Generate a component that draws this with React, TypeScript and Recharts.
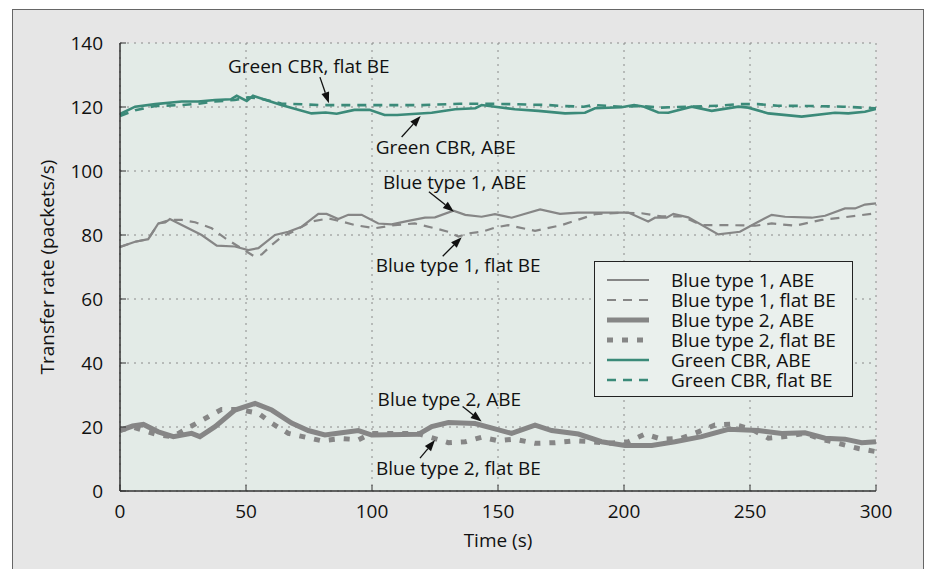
import React from "react"
import { LineChart, Line, XAxis, YAxis, CartesianGrid, Legend, ReferenceDot } from "recharts"

// time (s) and transfer rate (packets/s)
const greenAbeT = [0, 6, 14, 24.5, 31, 37.7, 44, 46.3, 50.3, 52.8, 64, 76, 81.6, 86, 93, 99, 105, 110, 123.7, 133, 141, 143.5, 148.8, 156.7, 166, 176.6, 184.5, 188.5, 199, 204, 208, 213.6, 217.6, 226.9, 234.8, 245.4, 249.3, 257.3, 270.5, 283.7, 289, 295.6, 300]
const greenAbeV = [117.8, 120.1, 120.9, 121.7, 121.7, 122.2, 122.4, 123.5, 121.9, 123.5, 120.6, 118.0, 118.3, 117.9, 119.1, 119.1, 117.5, 117.5, 118.2, 119.3, 119.6, 120.6, 120.1, 119.3, 118.8, 118.0, 118.2, 119.6, 119.9, 120.6, 120.1, 118.3, 118.2, 120.1, 118.8, 120.1, 119.8, 118.0, 117.0, 118.2, 118.0, 118.5, 119.4]

const greenFlatT = [0, 6, 14, 24.5, 31, 37.7, 45.5, 50.8, 54.8, 64, 80, 100, 120, 135, 145, 155, 170, 176, 184, 188, 199, 207, 214, 225, 238, 245, 253, 261, 274, 287, 300]
const greenFlatV = [117.2, 119.0, 120.3, 120.6, 121.0, 121.7, 122.2, 123.0, 122.8, 121.1, 120.6, 120.6, 120.6, 121.0, 121.0, 120.9, 120.6, 120.3, 120.1, 120.6, 120.1, 120.3, 119.8, 120.1, 120.4, 120.9, 120.9, 120.4, 120.3, 120.1, 119.6]

const blue1AbeT = [0, 6, 11.2, 15.2, 17.9, 19.8, 24.5, 32.4, 38.4, 45.6, 50.9, 54.9, 61.5, 66.8, 72.1, 78.7, 82, 86.6, 90.6, 95.9, 102.5, 107.8, 114.4, 121, 125, 132.3, 137, 143.5, 148.8, 155.4, 166.7, 174.6, 181.6, 201.7, 209.6, 212.3, 216.9, 219.6, 225.5, 237.4, 246, 252, 258.6, 263.9, 274.5, 279.8, 287.7, 291.7, 295.6, 300]
const blue1AbeV = [76.3, 77.9, 78.7, 83.6, 83.9, 85.0, 83.1, 80.0, 76.7, 76.4, 75.3, 75.9, 80.0, 81.0, 82.6, 86.6, 86.6, 85.0, 86.3, 86.3, 83.6, 83.3, 84.4, 85.4, 85.5, 87.6, 86.3, 85.7, 86.5, 85.4, 88.0, 86.6, 87.0, 87.0, 84.2, 85.4, 85.4, 86.6, 85.5, 80.2, 81.0, 83.6, 86.3, 85.7, 85.4, 86.0, 88.3, 88.3, 89.5, 89.9]

const blue1FlatT = [0, 6, 11.2, 15.2, 19.8, 24.5, 29.8, 36.4, 41.7, 47, 52.9, 56.2, 60.2, 64.2, 69.5, 76, 82.7, 88, 93.3, 101, 109, 117, 125, 130.3, 134.3, 138.2, 143.5, 148.8, 154, 164.7, 175.3, 188.5, 199, 207, 215, 223, 230.8, 241.4, 252, 258.6, 267.8, 278.4, 289, 300]
const blue1FlatV = [76.3, 77.9, 78.7, 83.6, 84.7, 84.7, 84.0, 82.1, 79.0, 76.4, 73.5, 73.9, 76.9, 79.4, 81.4, 84.2, 85.2, 84.2, 83.1, 82.1, 83.1, 83.6, 82.1, 81.0, 79.5, 80.5, 81.0, 82.3, 83.1, 81.3, 83.1, 86.5, 87.0, 86.8, 85.8, 85.8, 83.1, 83.1, 82.9, 83.6, 82.9, 84.7, 85.7, 86.8]

const blue2AbeT = [0, 5, 9.3, 15.2, 21.2, 28.4, 31.7, 37.7, 45.6, 53.6, 60.2, 68.1, 74.7, 81.3, 87.9, 94.6, 99.9, 118.4, 123.7, 130.3, 140.9, 148.8, 155.4, 164.7, 171.3, 181.9, 191.1, 200.4, 211, 220.2, 230.8, 241.4, 253.3, 262.6, 271.8, 279.8, 287.7, 294.3, 300]
const blue2AbeV = [18.9, 20.3, 20.8, 18.5, 17.0, 18.0, 17.0, 20.1, 25.3, 27.4, 25.3, 21.2, 18.9, 17.5, 18.2, 18.9, 17.5, 17.7, 20.1, 21.4, 21.1, 19.4, 18.0, 20.6, 18.9, 17.8, 15.4, 14.2, 14.2, 15.4, 17.0, 19.3, 18.9, 18.0, 18.2, 16.5, 16.2, 15.1, 15.4]

const blue2FlatT = [0, 5, 15.2, 21, 28.4, 35, 40.3, 46.9, 54.9, 60.2, 66.8, 80, 88, 94.6, 99.9, 106.5, 118, 122.3, 130.3, 137, 143.5, 150.1, 156.5, 164.7, 172.6, 180.5, 187.1, 193.7, 201.7, 208.3, 214.9, 222.8, 229.5, 236.1, 243.4, 250.6, 257.3, 263.9, 271.8, 278.4, 285, 293, 300]
const blue2FlatV = [19.0, 20.0, 17.5, 17.0, 20.3, 23.2, 25.5, 25.5, 24.3, 21.2, 18.0, 15.7, 16.4, 16.0, 18.0, 18.0, 18.0, 17.0, 15.1, 15.4, 16.8, 15.7, 16.2, 14.9, 15.1, 15.7, 15.4, 14.9, 15.4, 17.8, 16.2, 16.5, 18.5, 20.6, 20.9, 19.3, 16.5, 17.0, 18.0, 16.2, 14.9, 13.3, 12.3]

const xTicks = [0, 50, 100, 150, 200, 250, 300]
const yTicks = [0, 20, 40, 60, 80, 100, 120, 140]

// annotation text and the point (t, rate) its arrow points to
const noteLabels = ["Green CBR, flat BE", "Green CBR, ABE", "Blue type 1, ABE", "Blue type 1, flat BE", "Blue type 2, ABE", "Blue type 2, flat BE"]
const noteT = [82.9, 119.3, 132.5, 135.6, 143.5, 125]
const noteV = [121.2, 117.2, 87.3, 79.3, 21.7, 15.9]

// pixel offsets from arrow tip: tail dx,dy and text dx,dy
const noteLayout = [
  { tx: -9, ty: -26, lx: -101, ly: -37 },
  { tx: -19, ty: 21, lx: -45, ly: 31 },
  { tx: -25, ty: -20, lx: -71, ly: -30 },
  { tx: -19, ty: 19, lx: -86, ly: 28 },
  { tx: -19, ty: -15, lx: -104, ly: -23 },
  { tx: -15, ty: 18, lx: -59, ly: 28 },
]

const GRAY = "#868686"
const GREEN = "#3b8a79"
const FONT = "'Open Sans', sans-serif"
const FS = 19

const zip = (t: number[], v: number[]) => t.map((x, i) => ({ t: x, v: v[i] }))

const series = [
  { name: "Blue type 1, ABE", data: zip(blue1AbeT, blue1AbeV), color: GRAY, width: 2.2, dash: undefined },
  { name: "Blue type 1, flat BE", data: zip(blue1FlatT, blue1FlatV), color: GRAY, width: 2.2, dash: "9 7" },
  { name: "Blue type 2, ABE", data: zip(blue2AbeT, blue2AbeV), color: GRAY, width: 5, dash: undefined },
  { name: "Blue type 2, flat BE", data: zip(blue2FlatT, blue2FlatV), color: GRAY, width: 5, dash: "6 9" },
  { name: "Green CBR, ABE", data: zip(greenAbeT, greenAbeV), color: GREEN, width: 2.6, dash: undefined },
  { name: "Green CBR, flat BE", data: zip(greenFlatT, greenFlatV), color: GREEN, width: 2.6, dash: "9 7" },
]

function LegendBox() {
  return (
    <div style={{ background: "#eaf0ed", border: "1.5px solid #222", padding: "8px 0 6px 12px", fontFamily: FONT, fontSize: FS, color: "#111", lineHeight: "20px" }}>
      {series.map((s) => (
        <div key={s.name} style={{ display: "flex", alignItems: "center", height: 20 }}>
          <svg width={44} height={10} style={{ marginRight: 20 }}>
            <line x1={0} y1={5} x2={42} y2={5} stroke={s.color} strokeWidth={s.width} strokeDasharray={s.dash} />
          </svg>
          <span style={{ whiteSpace: "nowrap", lineHeight: "20px", height: 20 }}>{s.name}</span>
        </div>
      ))}
    </div>
  )
}

function makeNote(i: number) {
  const l = noteLayout[i]
  return (p: any) => {
    const { cx, cy } = p
    const x0 = cx + l.tx
    const y0 = cy + l.ty
    const ang = Math.atan2(cy - y0, cx - x0)
    const len = 11
    const w = 4
    const bx = cx - len * Math.cos(ang)
    const by = cy - len * Math.sin(ang)
    const pts = `${cx},${cy} ${bx + w * Math.sin(ang)},${by - w * Math.cos(ang)} ${bx - w * Math.sin(ang)},${by + w * Math.cos(ang)}`
    return (
      <g>
        <line x1={x0} y1={y0} x2={bx} y2={by} stroke="#111" strokeWidth={1.3} />
        <polygon points={pts} fill="#111" />
        <text x={cx + l.lx} y={cy + l.ly} dominantBaseline="central" fontFamily={FONT} fontSize={FS} fill="#111">
          {noteLabels[i]}
        </text>
      </g>
    )
  }
}

export default function App() {
  const tickStyle = { fontFamily: FONT, fontSize: FS, fill: "#111" }
  const axisLine = { stroke: "#333", strokeWidth: 1.5 }
  return (
    <div style={{ position: "absolute", left: 0, top: 0, width: 928, height: 569, background: "#fff", overflow: "hidden" }}>
      <div style={{ position: "absolute", left: 12, top: 9, width: 910, height: 580, background: "#e6e6e6", border: "1.5px solid #666" }} />
      <div style={{ position: "absolute", left: 0, top: 0 }}>
        <LineChart width={928} height={569} margin={{ top: 43, right: 52, bottom: 0, left: 0 }}>
          <CartesianGrid fill="#e3ebe7" stroke="#8a8a8a" strokeDasharray="2 5" />
          <XAxis dataKey="t" type="number" domain={[0, 300]} ticks={xTicks} height={78} allowDataOverflow
            tickSize={-6} tickMargin={20} tickLine={{ stroke: "#333" }} axisLine={axisLine} tick={tickStyle}
            label={{ value: "Time (s)", position: "insideBottom", offset: 22, style: { fontFamily: FONT, fontSize: FS, fill: "#111" } }} />
          <XAxis xAxisId="top" orientation="top" type="number" domain={[0, 300]} ticks={xTicks} height={0} allowDataOverflow
            tickSize={-6} tickLine={{ stroke: "#333" }} axisLine={axisLine} tickFormatter={() => ""} />
          <YAxis type="number" domain={[0, 140]} ticks={yTicks} width={120} allowDataOverflow
            tickSize={-6} tickMargin={23} tickLine={{ stroke: "#333" }} axisLine={axisLine} tick={tickStyle}
            label={{
              content: () => (
                <text x={47} y={267} transform="rotate(-90 47 267)" textAnchor="middle" dominantBaseline="central" fontFamily={FONT} fontSize={FS} fill="#111">
                  Transfer rate (packets/s)
                </text>
              ),
            }} />
          <YAxis yAxisId="right" orientation="right" type="number" domain={[0, 140]} ticks={yTicks} width={0} allowDataOverflow
            tickSize={-6} tickLine={{ stroke: "#333" }} axisLine={axisLine} tickFormatter={() => ""} />
          {series.map((s) => (
            <Line key={s.name} data={s.data} dataKey="v" name={s.name} type="linear" stroke={s.color}
              strokeWidth={s.width} strokeDasharray={s.dash} dot={false} activeDot={false} isAnimationActive={false} />
          ))}
          {noteLabels.map((lab, i) => (
            <ReferenceDot key={lab} x={noteT[i]} y={noteV[i]} r={0} shape={makeNote(i)} />
          ))}
          <Legend layout="vertical" align="center" verticalAlign="middle" content={() => <LegendBox />}
            wrapperStyle={{ position: "absolute", left: 594, top: 261, width: 259, height: "auto" }} />
        </LineChart>
      </div>
    </div>
  )
}
